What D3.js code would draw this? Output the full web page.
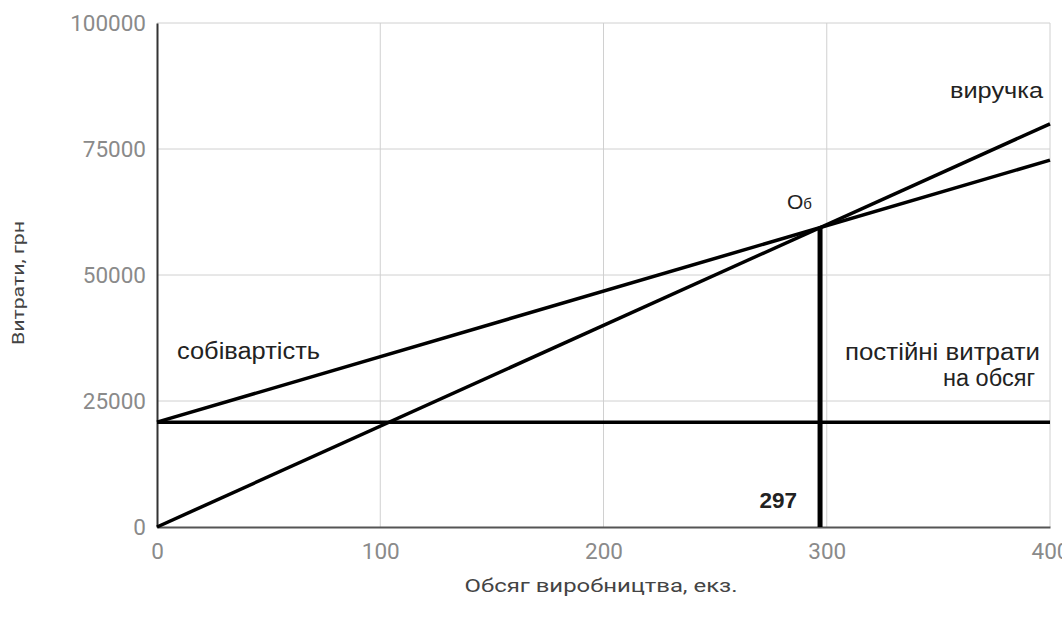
<!DOCTYPE html>
<html>
<head>
<meta charset="utf-8">
<script src="https://cdn.jsdelivr.net/npm/d3@7"></script>
<style>
  html, body { margin: 0; padding: 0; background: #fff; }
  svg { display: block; }
</style>
</head>
<body>
<svg id="chart" width="1062" height="625"></svg>
<script>
// Break-even chart: revenue vs. total cost vs. fixed cost
const volume = [0, 400];                 // output range, units
const fixedCost = [20800, 20800];        // постійні витрати
const totalCost = [20800, 72800];        // собівартість
const revenue = [0, 80000];              // виручка
const breakEven = { volume: 297, value: 59400 };

const xTicks = [0, 100, 200, 300, 400];
const yTicks = [0, 25000, 50000, 75000, 100000];

const svg = d3.select("#chart");
const margin = { left: 157, right: 12, top: 23, bottom: 98 };
const W = 1062, H = 625;

const x = d3.scaleLinear().domain([0, 400]).range([margin.left, W - margin.right]);
const y = d3.scaleLinear().domain([0, 100000]).range([H - margin.bottom, margin.top]);

// gridlines
svg.append("g")
  .selectAll("line")
  .data(yTicks.slice(1))
  .join("line")
  .attr("x1", x(0)).attr("x2", x(400))
  .attr("y1", d => y(d)).attr("y2", d => y(d))
  .attr("stroke", "#d0d0d0").attr("stroke-width", 1);

svg.append("g")
  .selectAll("line")
  .data(xTicks.slice(1))
  .join("line")
  .attr("y1", y(0)).attr("y2", y(100000))
  .attr("x1", d => x(d)).attr("x2", d => x(d))
  .attr("stroke", "#d0d0d0").attr("stroke-width", 1);

// axes
const yAxis = d3.axisLeft(y).tickValues(yTicks).tickSize(0).tickPadding(11).tickFormat(d3.format("d"));
const gy = svg.append("g").attr("transform", `translate(${x(0)},0)`).call(yAxis);
gy.select(".domain").attr("stroke", "#333").attr("stroke-width", 2);
gy.selectAll("text").attr("fill", "#8a8a8a").attr("font-family", "Roboto").attr("font-size", 22.5);

const xAxis = d3.axisBottom(x).tickValues(xTicks).tickSize(0).tickPadding(16).tickFormat(d3.format("d"));
const gx = svg.append("g").attr("transform", `translate(0,${y(0)})`).call(xAxis);
gx.select(".domain").attr("stroke", "#555").attr("stroke-width", 2);
gx.selectAll("text").attr("fill", "#8a8a8a").attr("font-family", "Roboto").attr("font-size", 22.5);

// axis titles
svg.append("text")
  .attr("transform", `translate(24,${(y(0) + y(100000)) / 2 + 8}) rotate(-90)`)
  .attr("text-anchor", "middle")
  .attr("font-family", "Roboto").attr("font-size", 16).attr("fill", "#444")
  .attr("textLength", 124).attr("lengthAdjust", "spacingAndGlyphs")
  .text("Витрати, грн");

svg.append("text")
  .attr("x", 601).attr("y", 592)
  .attr("text-anchor", "middle")
  .attr("font-family", "Roboto").attr("font-size", 18).attr("fill", "#444")
  .attr("textLength", 273).attr("lengthAdjust", "spacingAndGlyphs")
  .text("Обсяг виробництва, екз.");

// lines
const line = d3.line().x(d => x(d[0])).y(d => y(d[1]));
const series = [fixedCost, totalCost, revenue];
svg.append("g")
  .selectAll("path")
  .data(series)
  .join("path")
  .attr("d", s => line(volume.map((v, i) => [v, s[i]])))
  .attr("fill", "none").attr("stroke", "#000").attr("stroke-width", 3.5);

// break-even marker
svg.append("line")
  .attr("x1", x(breakEven.volume)).attr("x2", x(breakEven.volume))
  .attr("y1", y(0)).attr("y2", y(breakEven.value))
  .attr("stroke", "#000").attr("stroke-width", 5);

// annotations
const ann = svg.append("g").attr("font-family", "Liberation Sans, Arial, sans-serif").attr("fill", "#222");

function label(tx, ty, size, len, str) {
  return ann.append("text")
    .attr("x", tx).attr("y", ty).attr("text-anchor", "end")
    .attr("font-size", size)
    .attr("textLength", len).attr("lengthAdjust", "spacingAndGlyphs")
    .text(str);
}

label(1043, 98, 22, 93, "виручка");
label(320, 359, 23, 143, "собівартість");
label(1040, 360, 23, 195, "постійні витрати");
label(1035, 386, 23, 92, "на обсяг");

const ob = ann.append("text").attr("x", 787).attr("y", 209).attr("font-size", 21);
ob.append("tspan").text("O");
ob.append("tspan").attr("font-size", 15).text("б");

ann.append("text").attr("x", x(breakEven.volume) - 23).attr("y", 508).attr("text-anchor", "end")
  .attr("font-size", 22.5).attr("font-weight", "bold").text(breakEven.volume);
</script>
</body>
</html>
